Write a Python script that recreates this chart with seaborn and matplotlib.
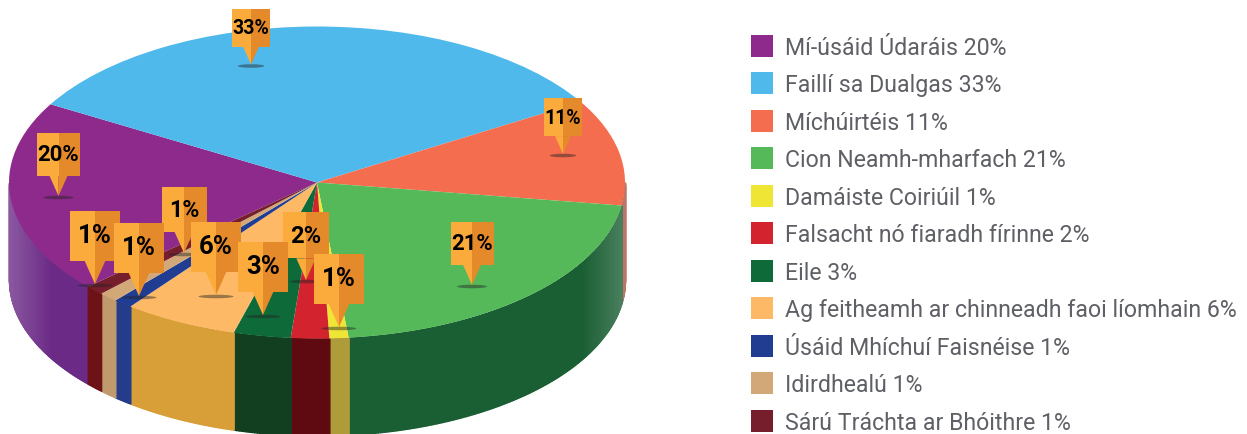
import numpy as np
import seaborn as sns
import matplotlib.pyplot as plt
from matplotlib.patches import Polygon, Rectangle, Ellipse
from matplotlib.transforms import Affine2D

# Slices, clockwise from the lower left
categories = ['Mí-úsáid Údaráis', 'Faillí sa Dualgas', 'Míchúirtéis', 'Cion Neamh-mharfach',
              'Damáiste Coiriúil', 'Falsacht nó fiaradh fírinne', 'Eile',
              'Ag feitheamh ar chinneadh faoi líomhain', 'Úsáid Mhíchuí Faisnéise',
              'Idirdhealú', 'Sárú Tráchta ar Bhóithre']
values = [20, 33, 11, 21, 1, 2, 3, 6, 1, 1, 1]
top_colors = ['#8e2a8b', '#4fb9ec', '#f46d4e', '#55b95a', '#eee535', '#d2232e',
              '#0f6a3a', '#fdb966', '#213d92', '#d2a878', '#761e2c']
wall_colors = ['#6b2a86', '#4fb9ec', '#a5503f', '#1a5e33', '#ae9c3a', '#5e0a10',
               '#123f20', '#d89f38', '#243c8a', '#c09a6c', '#6d1318']

# Pin layout in reference pixels: tip x, tip y, box width. Drawn in this order.
pin_order = [0, 1, 2, 3, 9, 10, 8, 7, 5, 6, 4]
pin_layout = {0: (58.5, 197, 43), 1: (251, 65.5, 38), 2: (563, 155, 38), 3: (472, 286, 43),
              4: (339, 328, 50), 5: (306, 281, 46), 6: (263, 316, 50), 7: (216, 296, 50),
              8: (139, 297, 50), 9: (184, 254, 45), 10: (95, 285, 50)}

W, H = 1247, 435
CX, CY, RX, RY, DEPTH = 317, 183.5, 308, 156, 97

sns.set_theme(style='white')
plt.rcParams['font.family'] = ['Roboto', 'DejaVu Sans']
palette = sns.color_palette(top_colors)

fig = plt.figure(figsize=(W / 100, H / 100), dpi=100)
ax = fig.add_axes([0, 0, 1, 1])

wedges, _ = ax.pie(values, colors=palette, startangle=221.9, counterclock=False,
                   wedgeprops={'linewidth': 0, 'zorder': 3})
# squash the pie into an ellipse, axes units are one radius each way
ax.set_aspect('auto')
ax.set_xlim(-CX / RX, (W - CX) / RX)
ax.set_ylim((CY - H) / RY, CY / RY)
ax.set_frame_on(False)

# Side wall of the disc
depth = DEPTH / RY
white = np.array([1, 1, 1])
for wedge, wall in zip(wedges, wall_colors):
    # keep only the part facing the front
    a0 = wedge.theta1 % 360
    a1 = a0 + (wedge.theta2 - wedge.theta1)
    lo, hi = max(a0, 180), min(a1, 360)
    if hi <= lo:
        continue
    n = int((hi - lo) * 2) + 2
    edges = np.linspace(lo, hi, n)
    base = np.array(sns.desaturate(wall, 1))
    for t0, t1 in zip(edges[:-1], edges[1:]):
        th = np.radians(np.linspace(t0, t1, 3))
        x = np.cos(th)
        y = np.sin(th)
        # the wall fades lighter towards both ends of the disc
        fade = np.clip((abs(x.mean()) - 0.86) / 0.14, 0, 1) * 0.22
        shade = base * (1 - fade) + white * fade
        ax.fill_between(x, y - depth, y, facecolor=shade, edgecolor=shade,
                        linewidth=1.0, zorder=2)

# Pins, drawn in reference pixels
px = Affine2D().scale(1, -1).translate(0, H)


def draw_pin(tip_x, tip_y, width, text, z):
    height = width
    drop = width * 0.47
    left = tip_x - width / 2
    top = tip_y - drop - height
    bottom = top + height
    ax.add_patch(Ellipse((tip_x, tip_y + 1.5), width * 0.7, 3.5, facecolor='#222222', alpha=0.45,
                         linewidth=0, transform=px, zorder=z))
    ax.add_patch(Rectangle((left, top), width / 2, height, facecolor='#fbaa3c', linewidth=0,
                           transform=px, zorder=z))
    ax.add_patch(Rectangle((tip_x, top), width / 2, height, facecolor='#e58a2a', linewidth=0,
                           transform=px, zorder=z))
    ax.add_patch(Polygon([(tip_x - width * 0.21, bottom), (tip_x, tip_y), (tip_x, bottom)],
                         facecolor='#fbaa3c', linewidth=0, transform=px, zorder=z))
    ax.add_patch(Polygon([(tip_x + width * 0.21, bottom), (tip_x, tip_y), (tip_x, bottom)],
                         facecolor='#e58a2a', linewidth=0, transform=px, zorder=z))
    ax.text(tip_x, top + height * 0.5, text, transform=px, ha='center', va='center',
            fontsize=width * 0.37, fontweight='bold', color='black', zorder=z + 0.5)


for order, i in enumerate(pin_order):
    tip_x, tip_y, width = pin_layout[i]
    draw_pin(tip_x, tip_y, width, f'{values[i]}%', 10 + order)

# Legend
fs = 16.7
fs_px = fs * 100 / 72
labels = [f'{c} {v}%' for c, v in zip(categories, values)]
fig.legend(wedges, labels, loc='upper left', bbox_to_anchor=(751 / W, 1 - 36 / H),
           frameon=False, fontsize=fs, labelcolor='#5f6066', borderpad=0, borderaxespad=0,
           handlelength=22 / fs_px, handleheight=(22 - 0.245 * fs_px) / (0.65 * fs_px),
           handletextpad=12 / fs_px, labelspacing=(37.6 - 24) / fs_px)

fig.savefig('out.png', dpi=100)
